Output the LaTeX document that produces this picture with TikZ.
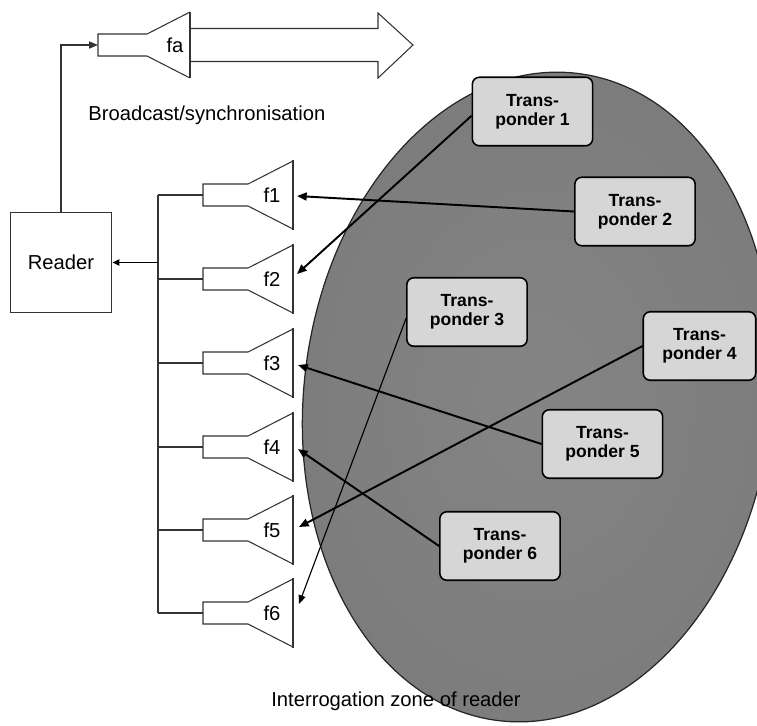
\documentclass[tikz,border=0pt]{standalone}
\usepackage{fontspec}
\setmainfont{Liberation Sans}
\usetikzlibrary{arrows.meta}
\pgfdeclareradialshading{zone}{\pgfpoint{0bp}{0bp}}{color(0bp)=(black!48); color(30bp)=(black!52); color(46bp)=(black!62); color(75bp)=(black!66)}
\tikzset{
  ampline/.style={draw=black!80, line width=0.6pt},
  conn/.style={draw=black, line width=1.1pt, -{Triangle[length=5.5pt,width=4.5pt]}},
  connthin/.style={draw=black, line width=0.65pt, -{Triangle[length=5pt,width=4pt]}},
  tbox/.style={draw=black, line width=0.9pt, rounded corners=4pt, fill=black!16,
    minimum width=68.5pt, minimum height=39pt, inner sep=0pt, align=center,
    font=\fontsize{10}{11}\selectfont\bfseries},
  lbl/.style={font=\fontsize{11.5}{13.8}\selectfont, inner sep=0pt},
  amp/.pic={
    \draw[ampline] (90,-34) -- (45,-11) -- (0,-11) -- (0,11) -- (45,11) -- (90,34);
    \draw[ampline] (90,-35) -- (90,35);
  }
}
\begin{document}
\begin{tikzpicture}[x=0.02cm, y=-0.02cm]
\useasboundingbox (0,0) rectangle (757,725);
\clip (0,0) rectangle (757,725);

% interrogation zone
\coordinate (zc) at (538,397);
\path[draw=black!85, line width=0.7pt, shading=zone, rotate around={-7:(zc)}]
  (zc) ellipse [x radius=234, y radius=326];

% reader
\node[draw=black!80, line width=0.6pt, minimum width=57.8pt, minimum height=57.3pt,
      lbl] (reader) at (61,262.5) {Reader};

% broadcast amplifier
\coordinate (faIn) at (98,45);
\draw[ampline] (190,12) -- (190,78);
\draw[ampline] (190,12) -- (147,34) -- (98,34) -- (98,56) -- (147,56) -- (190,78);
\node[lbl] (fa) at (175,45) {fa};
\draw[ampline, -{Triangle[length=5pt,width=4pt]}] (reader.north) |- (faIn);
\draw[ampline] (190,28.5) -- (378,28.5) -- (378,13) -- (413,45) -- (378,78)
  -- (378,61.5) -- (190,61.5);
\node[lbl, anchor=base west] (bc) at (88,120) {Broadcast/synchronisation};

% receiver amplifiers and bus
\coordinate (busTop) at (158,195);
\coordinate (busBot) at (158,613);
\coordinate (busR) at (158,262.5);
\draw[ampline] (busTop) -- (busBot);
\draw[draw=black, line width=1pt, -{Triangle[length=4pt,width=3.5pt]}] (busR) -- (reader.east);
\foreach \i/\c in {1/195,2/279,3/363,4/447,5/530,6/613}{
  \pic at (203,\c) {amp};
  \coordinate (a\i) at (203,\c);
  \coordinate (b\i) at (158,\c);
  \draw[ampline] (b\i) -- (a\i);
  \node[lbl] (f\i) at (272,\c) {f\i};
}

% arrow tips at receivers
\coordinate (tip1) at (297,196);
\coordinate (tip2) at (297,274);
\coordinate (tip3) at (298,365);
\coordinate (tip4) at (298,449);
\coordinate (tip5) at (299,527);
\coordinate (tip6) at (299,604);

% transponders
\node[tbox] (T1) at (532.5,111.5) {Trans-\\ponder 1};
\node[tbox] (T2) at (635,211.5) {Trans-\\ponder 2};
\node[tbox] (T3) at (467,312) {Trans-\\ponder 3};
\node[tbox, minimum width=64pt] (T4) at (699.5,346) {Trans-\\ponder 4};
\node[tbox] (T5) at (602.5,444) {Trans-\\ponder 5};
\node[tbox] (T6) at (500,546) {Trans-\\ponder 6};

\draw[conn] (T2.west) -- (tip1);
\draw[conn] (T1.184) -- (tip2);
\draw[conn] (T5.west) -- (tip3);
\draw[conn] (T6.west) -- (tip4);
\draw[conn] (T4.west) -- (tip5);
\draw[connthin] (T3.186) -- (tip6);

\node[lbl, anchor=base west] (iz) at (271,706) {Interrogation zone of reader};
\end{tikzpicture}
\end{document}
